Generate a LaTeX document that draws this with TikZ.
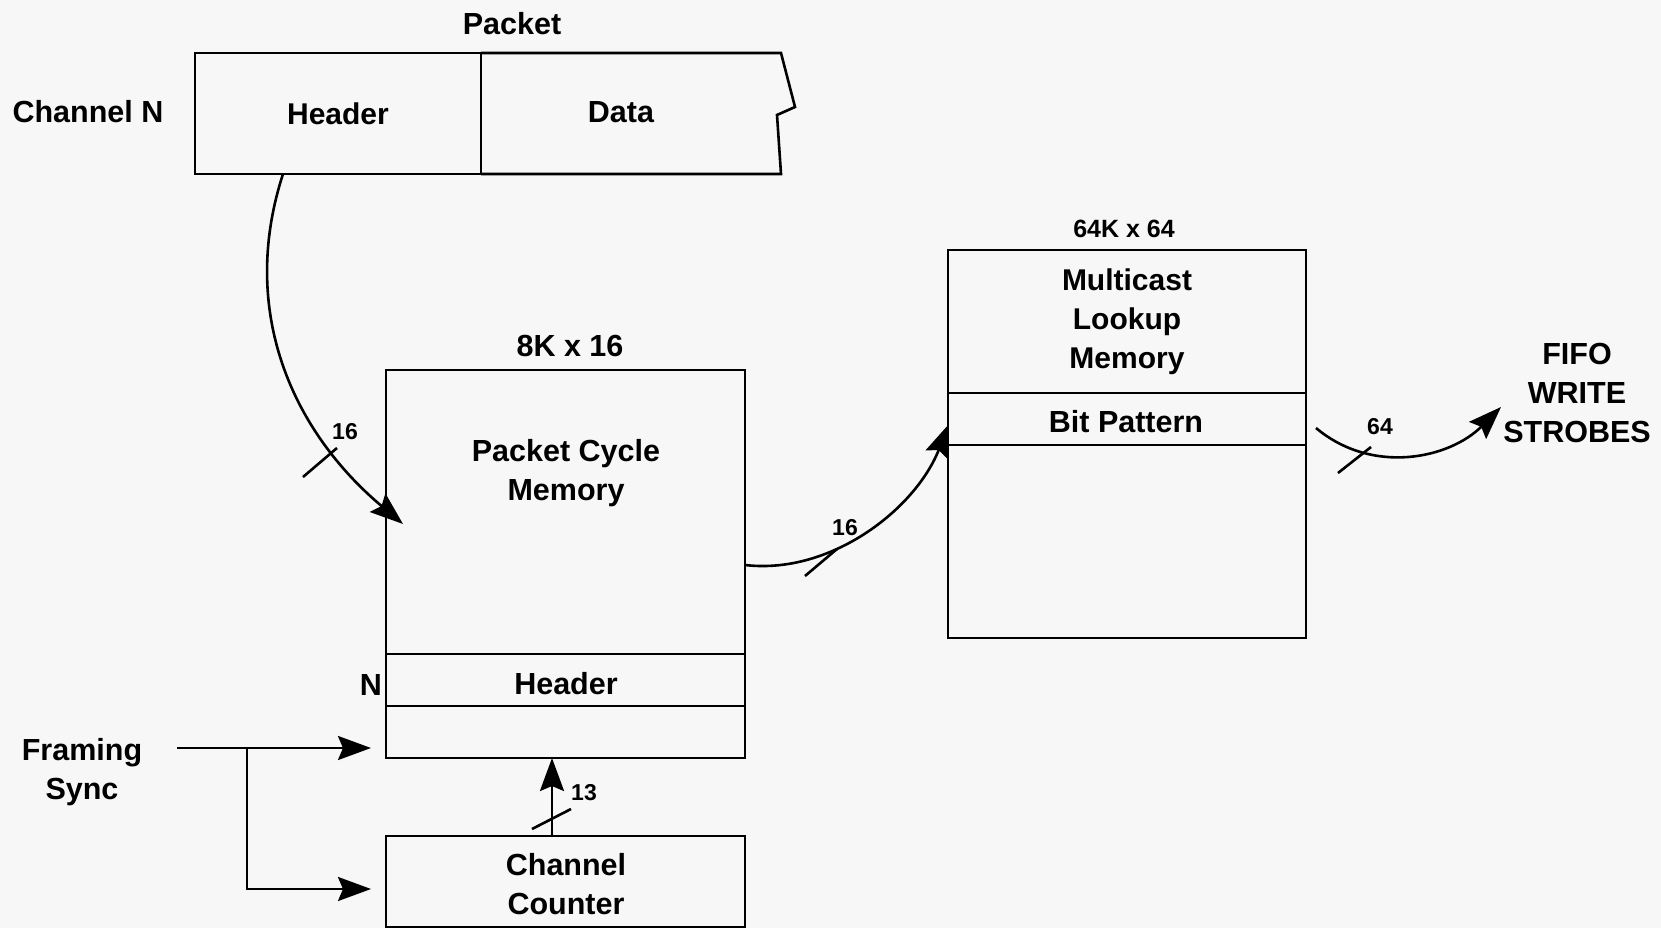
\documentclass[tikz,border=0pt]{standalone}
\usepackage{fontspec}
\setmainfont{Liberation Sans}
\usetikzlibrary{arrows.meta}
\begin{document}
\begin{tikzpicture}[x=1pt,y=1pt,
  line/.style={line width=2.6pt, line join=miter},
  cell/.style={draw, line width=2.6pt, inner sep=0pt, outer sep=0pt, anchor=north west,
    align=center, font=\fontsize{30}{39}\selectfont\bfseries},
  lbl/.style={align=center, inner sep=0pt, font=\fontsize{30.5}{39}\selectfont\bfseries},
  small/.style={inner sep=0pt, font=\fontsize{23}{28}\selectfont\bfseries},
  conn/.style={line width=2.6pt, -{Stealth[length=33pt,width=24pt,inset=5pt]}},
  tick/.style={line width=2.6pt}
]
\fill[black!3] (0,0) rectangle (1661,-928);
\useasboundingbox (0,0) rectangle (1661,-928);

% Packet
\node[cell, minimum width=286pt, minimum height=121pt] (hdr) at (195,-53) {Header};
\draw[line] (hdr.north east) -- (781,-53) -- (795,-107) -- (777,-115) -- (781,-174) -- (hdr.south east);
\node[lbl] (data) at (621,-112) {Data};
\node[lbl] (packet) at (512,-24) {Packet};
\node[lbl] (chn) at (88,-112) {Channel N};

% Packet cycle memory
\node[cell, minimum width=359pt, minimum height=284pt] (pcm) at (386,-370) {};
\node[lbl] (pcmtxt) at (566,-473) {Packet Cycle\\Memory};
\node[cell, minimum width=359pt, minimum height=52pt] (pcmh) at (386,-654) {};
\node[lbl] (pcmhtxt) at (566,-684) {Header};
\node[cell, minimum width=359pt, minimum height=52pt] (pcml) at (386,-706) {};
\node[lbl] (pcmsize) at (570,-346) {8K x 16};
\node[lbl] (nlbl) at (371,-685) {N};

% Multicast lookup memory
\node[cell, minimum width=358pt, minimum height=143pt] (mlmt) at (948,-250) {Multicast\\Lookup\\Memory};
\node[cell, minimum width=358pt, minimum height=52pt] (mlmb) at (948,-393) {};
\node[lbl] (mlmbtxt) at (1126,-422) {Bit Pattern};
\node[cell, minimum width=358pt, minimum height=193pt] (mlml) at (948,-445) {};
\node[small, font=\fontsize{25}{30}\selectfont\bfseries] (mlmsize) at (1124,-229) {64K x 64};

\node[lbl] (fifo) at (1577,-393) {FIFO\\WRITE\\STROBES};

% Channel counter
\node[cell, minimum width=359pt, minimum height=91pt] (cnt) at (386,-836) {};
\node[lbl] (cnttxt) at (566,-884) {Channel\\Counter};

% Framing sync
\node[lbl] (fs) at (82,-772) {Framing\\Sync};

% connectors
\coordinate (a1s) at (283,-174);
\coordinate (a1e) at (403,-524);
\draw[conn] (a1s) to[out=252,in=140] (a1e);
\draw[tick] (303,-477) -- (337,-448);
\node[small] (l16a) at (345,-432) {16};

\coordinate (a2s) at (745,-565);
\coordinate (a2e) at (949,-424);
\draw[conn] (a2s) .. controls (830,-575) and (915,-510) .. (a2e);
\draw[tick] (805,-576) -- (837,-549);
\node[small] (l16b) at (845,-528) {16};

\coordinate (a3s) at (1316,-428);
\coordinate (a3e) at (1501,-407);
\draw[conn] (a3s) .. controls (1372,-475) and (1449,-459) .. (a3e);
\draw[tick] (1338,-473) -- (1371,-447);
\node[small] (l64) at (1380,-427) {64};

\coordinate (a4s) at (552,-836);
\coordinate (a4e) at (552,-758);
\draw[conn] (a4s) -- (a4e);
\draw[tick] (532,-829) -- (571,-809);
\node[small] (l13) at (584,-793) {13};

\coordinate (f0) at (177,-748);
\coordinate (f1) at (371,-748);
\coordinate (fb) at (247,-748);
\coordinate (f2) at (371,-889);
\draw[conn] (f0) -- (f1);
\draw[conn] (fb) |- (f2);
\end{tikzpicture}
\end{document}
